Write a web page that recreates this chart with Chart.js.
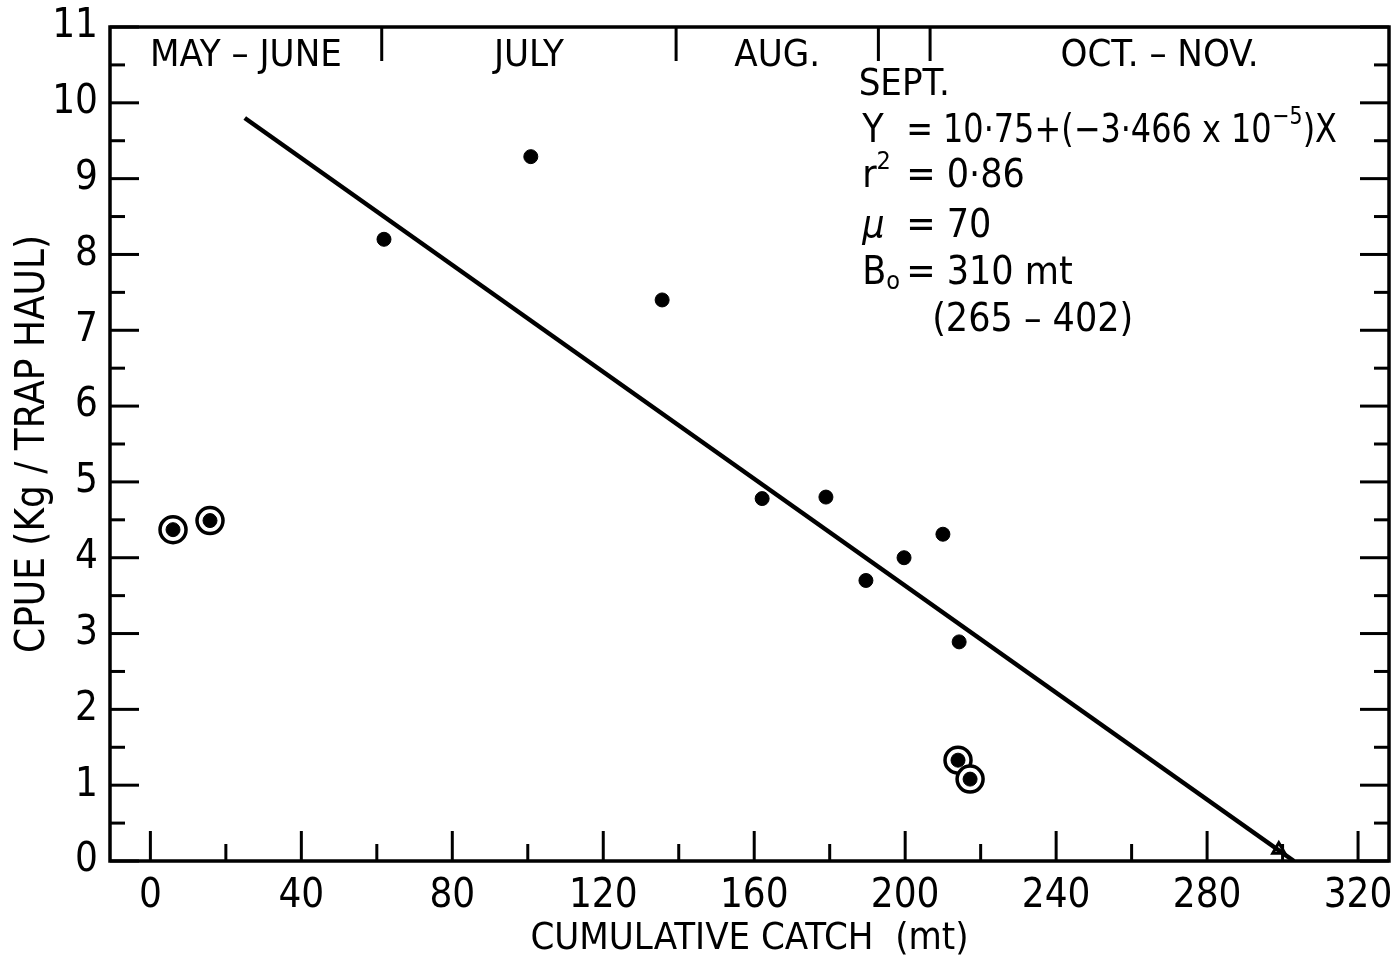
<!DOCTYPE html>
<html>
<head>
<meta charset="utf-8">
<script src="https://cdn.jsdelivr.net/npm/chart.js@4"></script>
<style>
  body { margin: 0; background: #fff; }
</style>
</head>
<body>
<canvas id="cpueChart" width="1398" height="964"></canvas>
<script>
// values
const catchX = [61.9, 100.8, 135.6, 162.1, 179.0, 189.6, 199.7, 210.0, 214.3];
const cpueY = [8.2, 9.29, 7.40, 4.78, 4.80, 3.70, 4.00, 4.31, 2.89];
const circledX = [6.0, 15.8, 214.0, 217.2];
const circledY = [4.37, 4.49, 1.33, 1.08];
const fitX = [25, 303];
const fitY = [9.8, 0];
const interceptX = [299];
const interceptY = [0.15];

const xTicks = [0, 40, 80, 120, 160, 200, 240, 280, 320];
const xMinor = [20, 60, 100, 140, 180, 220, 260, 300];
const yTicks = [0, 1, 2, 3, 4, 5, 6, 7, 8, 9, 10, 11];
const yMinor = [0.5, 1.5, 2.5, 3.5, 4.5, 5.5, 6.5, 7.5, 8.5, 9.5, 10.5];

const monthBreaks = [61.3, 139.3, 192.9, 206.6];
const monthNames = ['MAY – JUNE', 'JULY', 'AUG.', 'SEPT.', 'OCT. – NOV.'];

const FONT = '"Liberation Sans Narrow", "DejaVu Sans Condensed", "Liberation Sans", sans-serif';
const X_MIN = -10.7, X_MAX = 328.2;

const pts = (xs, ys) => xs.map((x, i) => ({ x: x, y: ys[i] }));

// no extra room for overhanging tick labels, the frame is placed by layout.padding
function noLabelPadding(s) {
  s.paddingTop = 0;
  s.paddingBottom = 0;
  s.paddingLeft = 0;
  s.paddingRight = 0;
}

// frame, inward ticks, month bars and the text block
const decorations = {
  id: 'decorations',
  beforeDatasetsDraw(chart) {
    const ctx = chart.ctx;
    const a = chart.chartArea;
    const xs = chart.scales.x, ys = chart.scales.y;
    ctx.save();
    ctx.strokeStyle = '#000';
    ctx.lineCap = 'butt';

    ctx.lineWidth = 3;
    xTicks.forEach(v => tick(xs.getPixelForValue(v), a.bottom, 0, -30));
    xMinor.forEach(v => tick(xs.getPixelForValue(v), a.bottom, 0, -17));
    yTicks.forEach(v => {
      tick(a.left, ys.getPixelForValue(v), 29, 0);
      tick(a.right, ys.getPixelForValue(v), -29, 0);
    });
    yMinor.forEach(v => {
      tick(a.left, ys.getPixelForValue(v), 15, 0);
      tick(a.right, ys.getPixelForValue(v), -15, 0);
    });
    monthBreaks.forEach(v => tick(xs.getPixelForValue(v), a.top, 0, 34));

    ctx.lineWidth = 3.5;
    ctx.strokeRect(a.left, a.top, a.right - a.left, a.bottom - a.top);

    function tick(x, y, dx, dy) {
      ctx.beginPath();
      ctx.moveTo(x, y);
      ctx.lineTo(x + dx, y + dy);
      ctx.stroke();
    }

    // month names between the bars
    ctx.fillStyle = '#000';
    ctx.textAlign = 'center';
    ctx.textBaseline = 'middle';
    ctx.font = '38px ' + FONT;
    const edges = [X_MIN].concat(monthBreaks, [X_MAX]);
    monthNames.forEach((m, i) => {
      const cx = xs.getPixelForValue((edges[i] + edges[i + 1]) / 2);
      const cy = m === 'SEPT.' ? a.top + 58 : a.top + 29;
      ctx.fillText(m, cx, cy);
    });

    // regression text
    ctx.textAlign = 'left';
    const x0 = xs.getPixelForValue(188.6);
    const xEq = x0 + 44;
    const big = '39px ' + FONT, small = '25px ' + FONT;
    function run(parts, x, y, sx) {
      sx = sx || 1;
      parts.forEach(p => {
        ctx.font = p.f || big;
        ctx.save();
        ctx.translate(x, y + (p.dy || 0));
        ctx.scale(sx, 1);
        ctx.fillText(p.t, 0, 0);
        ctx.restore();
        x += (ctx.measureText(p.t).width + (p.gap || 0)) * sx;
      });
    }
    let y = ys.getPixelForValue(9.62);
    run([{ t: 'Y' }], x0, y);
    run([{ t: '= 10·75+(−3·466 x 10', gap: 1 }, { t: '−5', f: small, dy: -14 }, { t: ')X' }], xEq, y, 0.91);
    y = ys.getPixelForValue(9.02);
    run([{ t: 'r' }, { t: '2', f: small, dy: -15 }], x0, y);
    run([{ t: '= 0·86' }], xEq, y);
    y = ys.getPixelForValue(8.36);
    run([{ t: 'μ', f: 'italic 39px ' + FONT }], x0, y);
    run([{ t: '= 70' }], xEq, y);
    y = ys.getPixelForValue(7.74);
    run([{ t: 'B' }, { t: 'o', f: small, dy: 8 }], x0, y);
    run([{ t: '= 310 mt' }], xEq, y);
    y = ys.getPixelForValue(7.12);
    run([{ t: '(265 – 402)' }], xEq + 26, y);
    ctx.restore();
  }
};

new Chart(document.getElementById('cpueChart'), {
  type: 'scatter',
  data: {
    datasets: [
      {
        label: 'CPUE',
        data: pts(catchX, cpueY),
        pointRadius: 7,
        pointBackgroundColor: '#000',
        pointBorderColor: '#000',
        order: 0
      },
      {
        label: 'excluded dot',
        data: pts(circledX, circledY),
        pointRadius: 7,
        pointBackgroundColor: '#000',
        pointBorderColor: '#000',
        order: 1
      },
      {
        label: 'excluded ring',
        data: pts(circledX, circledY),
        pointRadius: 13,
        pointBorderWidth: 3.5,
        pointBackgroundColor: '#fff',
        pointBorderColor: '#000',
        order: 2
      },
      {
        label: 'fit',
        data: pts(fitX, fitY),
        showLine: true,
        borderColor: '#000',
        borderWidth: 4.5,
        pointRadius: 0,
        order: 3
      },
      {
        label: 'intercept',
        data: pts(interceptX, interceptY),
        pointStyle: 'triangle',
        pointRadius: 7,
        pointBorderWidth: 3,
        pointBackgroundColor: '#fff',
        pointBorderColor: '#000',
        order: 4
      }
    ]
  },
  options: {
    responsive: false,
    animation: false,
    layout: { autoPadding: false, padding: { top: 27, right: 9, left: 0, bottom: 0 } },
    plugins: { legend: { display: false }, tooltip: { enabled: false } },
    scales: {
      x: {
        type: 'linear',
        min: X_MIN,
        max: X_MAX,
        afterBuildTicks: s => { s.ticks = xTicks.map(v => ({ value: v })); },
        afterFit: s => { s.height = 103; noLabelPadding(s); },
        grid: { drawOnChartArea: false, drawTicks: false },
        border: { display: false },
        ticks: { color: '#000', padding: 12, font: { family: FONT, size: 40 } },
        title: {
          display: true,
          text: 'CUMULATIVE CATCH  (mt)',
          color: '#000',
          font: { family: FONT, size: 38 },
          padding: { top: 0, bottom: 2 }
        }
      },
      y: {
        type: 'linear',
        min: 0,
        max: 11,
        afterBuildTicks: s => { s.ticks = yTicks.map(v => ({ value: v })); },
        afterFit: s => { s.width = 110; noLabelPadding(s); },
        grid: { drawOnChartArea: false, drawTicks: false },
        border: { display: false },
        ticks: { color: '#000', padding: 12, font: { family: FONT, size: 40 } },
        title: {
          display: true,
          text: 'CPUE (Kg / TRAP HAUL)',
          color: '#000',
          font: { family: FONT, size: 40 },
          padding: { top: 10, bottom: 0 }
        }
      }
    }
  },
  plugins: [decorations]
});
</script>
</body>
</html>
